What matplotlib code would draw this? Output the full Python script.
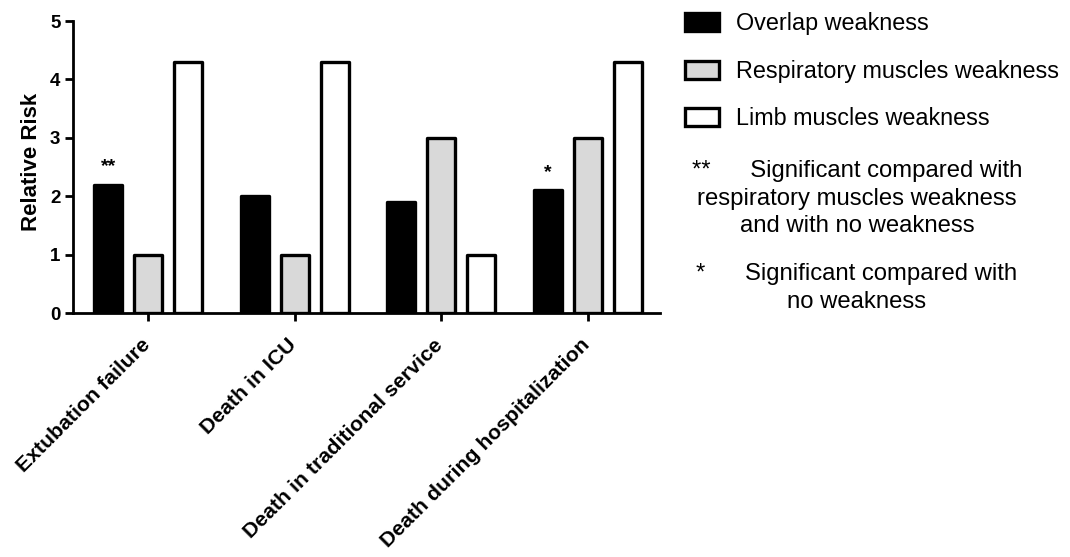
import matplotlib
matplotlib.use("Agg")
import matplotlib.pyplot as plt
import numpy as np
from matplotlib.patches import Patch
from matplotlib.transforms import ScaledTranslation

categories = ["Extubation failure", "Death in ICU", "Death in traditional service",
              "Death during hospitalization"]
series_names = ["Overlap weakness", "Respiratory muscles weakness", "Limb muscles weakness"]
overlap = [2.2, 2.0, 1.9, 2.1]
respiratory = [1.0, 1.0, 3.0, 3.0]
limb = [4.3, 4.3, 1.0, 4.3]
star_labels = ["**", "", "", "*"]
y_ticks = [0, 1, 2, 3, 4, 5]

fills = ["black", "#d9d9d9", "white"]

plt.rcParams['font.family'] = ['Liberation Sans', 'DejaVu Sans']

fig = plt.figure(figsize=(10.7, 5.57), dpi=100)
W, H = 1070, 557
ax = fig.add_axes([73 / W, 1 - 313 / H, (660 - 73) / W, (313 - 21) / H])

x = np.arange(len(categories))
bw = 0.19
off = 0.273
for i, (vals, fc) in enumerate(zip([overlap, respiratory, limb], fills)):
    ax.bar(x + (i - 1) * off, vals, width=bw, color=fc, edgecolor="black",
           linewidth=2.4, joinstyle="round", label=series_names[i], zorder=3)

for xi, v, s in zip(x, overlap, star_labels):
    if s:
        ax.text(xi - off, v + 0.3, s, ha="center", va="center", fontsize=14,
                fontweight="bold")

ax.set_xlim(-0.514, 3.493)
ax.set_ylim(0, 5)
ax.set_yticks(y_ticks)
ax.set_yticklabels([str(t) for t in y_ticks], fontsize=13.5, fontweight="bold")
ax.set_xticks(x)
ax.set_xticklabels(categories, rotation=45, ha="right", va="top",
                   rotation_mode="anchor", fontsize=15.3, fontweight="bold")
ax.tick_params(axis="both", direction="out", length=6, width=2, color="black")
ax.tick_params(axis="x", pad=8)
ax.tick_params(axis="y", pad=3)
shift = ScaledTranslation(-8 / 100, -3 / 100, fig.dpi_scale_trans)
for lbl in ax.get_xticklabels():
    lbl.set_transform(lbl.get_transform() + shift)
for sp in ["top", "right"]:
    ax.spines[sp].set_visible(False)
for sp in ["left", "bottom"]:
    ax.spines[sp].set_linewidth(2)
ax.set_ylabel("Relative Risk", fontsize=16, fontweight="bold")
ax.yaxis.set_label_coords((42 - 73) / 587, (313 - 161.5) / 292)

handles = [Patch(facecolor=fc, edgecolor="black", linewidth=2.4, joinstyle="round")
           for fc in fills]
fig.legend(handles, series_names, loc="upper left",
           bbox_to_anchor=(685 / W, 1 - 12 / H), frameon=False, fontsize=16.8,
           handlelength=1.45, handleheight=0.8, handletextpad=0.72,
           labelspacing=1.06, borderpad=0, borderaxespad=0)

notes = [("**      Significant compared with", 171),
         ("respiratory muscles weakness", 199),
         ("and with no weakness", 226),
         ("*      Significant compared with", 274),
         ("no weakness", 302)]
for txt, yy in notes:
    fig.text(857 / W, 1 - yy / H, txt, ha="center", va="center", fontsize=17.2)

fig.savefig("out.png", dpi=100)
